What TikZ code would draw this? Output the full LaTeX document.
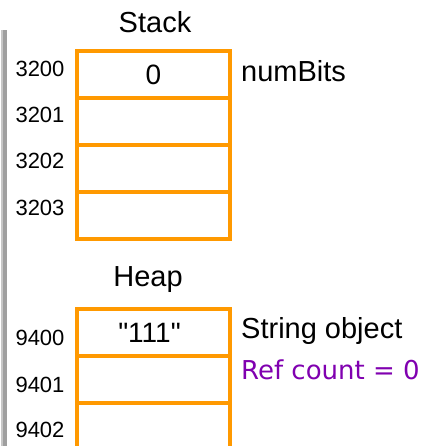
\documentclass[tikz,border=0pt]{standalone}
\usepackage{fontspec}
\setmainfont{Liberation Sans}
\newfontfamily\cellfont{Liberation Sans}
\newfontfamily\notefont{DejaVu Sans}
\usepackage{xcolor}

\definecolor{cellorange}{RGB}{255,153,0}
\definecolor{notepurple}{RGB}{128,0,176}

\tikzset{
  cell/.style={draw=cellorange,line width=4.5pt,minimum width=153pt,minimum height=47pt,inner sep=0pt,font=\cellfont\fontsize{28}{28}\selectfont},
  addr/.style={font=\fontsize{22}{22}\selectfont},
  title/.style={font=\fontsize{29}{29}\selectfont},
  note/.style={anchor=west,inner sep=0pt,font=\fontsize{29}{29}\selectfont}
}

\begin{document}
\begin{tikzpicture}[x=1pt,y=-1pt]
  \useasboundingbox[fill=white] (0,0) rectangle (423,446);
  % left margin bar
  \fill[gray!75] (1,30) rectangle (7,446);
  \fill[gray!45] (1,30) rectangle (2.5,446);

  % stack frame
  \node[title] (stack) at (155,22) {Stack};
  \node[cell] (s0) at (153.5,74.5) {0};
  \node[cell] (s1) at (153.5,121.5) {};
  \node[cell] (s2) at (153.5,168.5) {};
  \node[cell] (s3) at (153.5,215.5) {};
  \node[addr] (a0) at (40,69) {3200};
  \node[addr] (a1) at (40,114.5) {3201};
  \node[addr] (a2) at (40,161) {3202};
  \node[addr] (a3) at (40,207.5) {3203};
  \node[note] (numbits) at (241,71) {numBits};

  % heap
  \node[title] (heap) at (148,280) {Heap};
  \node[cell] (h0) at (153.5,332.5) {\hspace*{-8pt}"111"};
  \node[cell] (h1) at (153.5,379.5) {};
  \node[cell] (h2) at (153.5,426.5) {};
  \node[addr] (b0) at (40,337.5) {9400};
  \node[addr] (b1) at (40,384.5) {9401};
  \node[addr] (b2) at (40,430) {9402};
  \node[note] (strobj) at (241,331) {String object};
  \node[note,text=notepurple,font=\notefont\fontsize{26}{26}\selectfont] (refcnt) at (241,370) {Ref count = 0};
\end{tikzpicture}
\end{document}
